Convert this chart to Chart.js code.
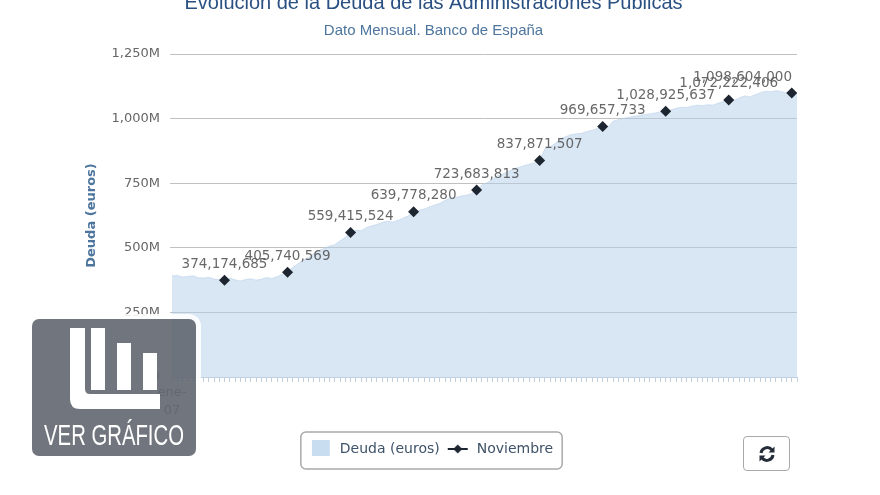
<!DOCTYPE html>
<html lang="es">
<head>
<meta charset="utf-8">
<title>Evolución de la Deuda de las Administraciones Públicas</title>
<script src="https://cdn.jsdelivr.net/npm/chart.js@4"></script>
<style>
html,body{margin:0;padding:0;background:#fff;width:880px;height:495px;overflow:hidden}
#chart{position:absolute;left:0;top:-16px}
#refresh{position:absolute;left:743px;top:436px;width:47px;height:35px;box-sizing:border-box;border:1.5px solid #a9a9a9;border-radius:4px;background:#fff;padding:0;display:flex;align-items:center;justify-content:center}
#badge{position:absolute;left:32px;top:319px;width:164px;height:137px;border-radius:7px;background:rgba(98,103,113,.91);box-shadow:0 0 0 5px rgba(255,255,255,.88)}
#badge svg{position:absolute;left:0;top:0}
#badge span{position:absolute;left:-20px;width:204px;top:99px;text-align:center;white-space:nowrap;color:#fff;font:400 29px/34px "Liberation Sans",sans-serif;transform:scaleX(.7);transform-origin:center}
</style>
</head>
<body>
<canvas id="chart" width="880" height="511"></canvas>
<button id="refresh" aria-label="Actualizar">
<svg width="18" height="18" viewBox="0 0 18 18" fill="none" stroke="#252d38" stroke-width="3"><path d="M3 8a6.2 6.2 0 0 1 11-3"/><path d="M15 10a6.2 6.2 0 0 1-11 3"/><path d="M16.5 1.5v6h-6z" fill="#252d38" stroke="none"/><path d="M1.5 16.5v-6h6z" fill="#252d38" stroke="none"/></svg>
</button>
<div id="badge">
<svg width="164" height="137" viewBox="0 0 164 137"><path d="M38 9h15v61q0 5 5 5h70v15H48q-10 0-10-10z" fill="#fff"/><rect x="59" y="9" width="14" height="62" fill="#fff"/><rect x="85" y="24" width="14" height="47" fill="#fff"/><rect x="111" y="34" width="14" height="37" fill="#fff"/></svg>
<span>VER GRÁFICO</span>
</div>
<script>
const titleText = 'Evolución de la Deuda de las Administraciones Públicas';
const subtitleText = 'Dato Mensual. Banco de España';
const yTicks = [0, 250, 500, 750, 1000, 1250];
const monthNames = ['ene','feb','mar','abr','may','jun','jul','ago','sep','oct','nov','dic'];
const years = ['07','08','09','10','11','12','13','14','15','16'];
const debt2007 = [391,393,387,389,392,384,383,386,379,377,374,382];
const debt2008 = [376,372,377,380,375,378,385,381,388,398,406,425];
const debt2009 = [438,452,462,478,490,498,507,512,527,541,559,568];
const debt2010 = [566,578,585,590,598,603,600,606,615,624,640,644];
const debt2011 = [650,658,666,672,684,692,695,700,703,709,724,743];
const debt2012 = [752,765,779,786,795,805,811,818,823,829,838,884];
const debt2013 = [890,905,923,930,938,941,943,950,955,962,970,966];
const debt2014 = [990,996,1001,1005,1009,1012,1016,1018,1022,1026,1029,1034];
const debt2015 = [1040,1044,1043,1048,1052,1050,1054,1052,1060,1066,1072,1070];
const debt2016 = [1080,1088,1084,1092,1100,1106,1104,1108,1105,1100,1099,1098];
const novemberIndexes = [10,22,34,46,58,70,82,94,106,118];
const novemberValues = [374174685,405740569,559415524,639778280,723683813,837871507,969657733,1028925637,1072222406,1098604000];

const labels = years.flatMap(y => monthNames.map(m => m + '-' + y));
const debt = [].concat(debt2007,debt2008,debt2009,debt2010,debt2011,debt2012,debt2013,debt2014,debt2015,debt2016);
const november = labels.map(() => null);
novemberIndexes.forEach((ix, i) => { november[ix] = novemberValues[i] / 1e6; });

const sans = '"DejaVu Sans", sans-serif';
const fmt = n => n.toLocaleString('en-US');

function legendIcon(kind) {
  const c = document.createElement('canvas');
  c.width = 24; c.height = 18;
  const x = c.getContext('2d');
  if (kind === 'area') {
    x.fillStyle = '#c9ddf1';
    x.fillRect(3, 0, 18, 16);
  } else {
    x.strokeStyle = x.fillStyle = '#1d2531';
    x.lineWidth = 2;
    x.beginPath(); x.moveTo(2, 9); x.lineTo(22, 9); x.stroke();
    x.beginPath(); x.moveTo(12, 4.5); x.lineTo(16.5, 9); x.lineTo(12, 13.5); x.lineTo(7.5, 9); x.fill();
  }
  return c;
}

const pointValueLabels = {
  id: 'pointValueLabels',
  afterDatasetsDraw(chart) {
    const { ctx, chartArea } = chart;
    const pts = chart.getDatasetMeta(1).data;
    ctx.save();
    ctx.font = '13.5px ' + sans;
    ctx.fillStyle = 'rgba(90,90,90,.92)';
    ctx.textAlign = 'center';
    ctx.textBaseline = 'middle';
    novemberIndexes.forEach((ix, i) => {
      const p = pts[ix], s = fmt(novemberValues[i]);
      const w = ctx.measureText(s).width;
      ctx.fillText(s, Math.min(p.x, chartArea.right - 5 - w / 2), p.y - 16);
    });
    ctx.restore();
  }
};

const legendFrame = {
  id: 'legendFrame',
  afterLayout(chart) {
    const l = chart.legend, nudge = 2.5;
    l.left -= nudge; l.right -= nudge;
    l.legendHitBoxes.forEach(h => { h.left -= nudge; });
  },
  afterDraw(chart) {
    const l = chart.legend, ctx = chart.ctx;
    const hb = l.legendHitBoxes, first = hb[0], last = hb[hb.length - 1];
    ctx.save();
    ctx.strokeStyle = '#a9a9a9';
    ctx.lineWidth = 1.5;
    ctx.beginPath();
    ctx.roundRect(first.left - 8, first.top - 10, last.left + last.width - first.left + 17, first.height + 23, 5);
    ctx.stroke();
    ctx.restore();
  }
};

new Chart(document.getElementById('chart'), {
  data: {
    labels,
    datasets: [
      { type: 'line', label: 'Deuda (euros)', data: debt, fill: 'origin', order: 2, tension: 0,
        backgroundColor: 'rgba(180,206,234,.5)', borderColor: 'rgba(180,206,234,.5)', borderWidth: 1, pointRadius: 0 },
      { type: 'line', label: 'Noviembre', data: november, showLine: false, order: 1,
        pointStyle: 'rectRot', pointRadius: 5.5, pointBackgroundColor: '#1d2531', pointBorderWidth: 0 }
    ]
  },
  options: {
    responsive: false,
    animation: false,
    layout: { padding: { left: 0, right: 13, top: 7, bottom: 29 } },
    scales: {
      x: {
        type: 'category',
        offset: false,
        grid: { display: true, drawOnChartArea: false, drawTicks: true, tickLength: 5, tickColor: '#c0d0e0', tickWidth: 1 },
        border: { color: '#c0d0e0' },
        afterFit: s => { s.height = 59; },
        afterTickToLabelConversion: s => {
          s.ticks.forEach((t, i) => { t.label = i === 0 ? ['ene-', '07'] : ''; });
        },
        ticks: { autoSkip: false, maxRotation: 0, minRotation: 0, padding: 2, color: '#666',
          font: { family: sans, size: 13, lineHeight: 1.35 } }
      },
      y: {
        min: 0, max: 1250,
        afterBuildTicks: s => { s.ticks = yTicks.map(v => ({ value: v })); },
        afterFit: s => { s.width = 172; },
        grid: { color: '#c0c0c0', tickColor: '#c0c0c0', tickLength: 2, lineWidth: 1 },
        border: { display: false },
        title: { display: true, text: 'Deuda (euros)', color: '#4d759e',
          font: { family: sans, size: 13, weight: 'bold' }, padding: { top: 84, bottom: 12 } },
        ticks: { color: '#666', padding: 10, font: { family: sans, size: 13 },
          callback: v => fmt(v) + (v === 0 ? '' : 'M') }
      },
      rightGutter: {
        position: 'right',
        display: true,
        min: 0, max: 1,
        grid: { display: false },
        border: { display: false },
        ticks: { display: false },
        afterFit: s => { s.width = 70; }
      }
    },
    plugins: {
      title: { display: true, text: titleText, color: '#2a5082',
        font: { family: '"Liberation Sans", sans-serif', size: 20, weight: 'normal' }, padding: { top: 0, bottom: 7 } },
      subtitle: { display: true, text: subtitleText, color: '#4d759e',
        font: { family: '"Liberation Sans", sans-serif', size: 15, weight: 'normal' }, padding: { top: 0, bottom: 14 } },
      legend: {
        position: 'bottom',
        labels: {
          usePointStyle: true,
          pointStyleWidth: 24,
          boxHeight: 14,
          padding: 6,
          color: '#3e5268',
          font: { family: sans, size: 14 },
          generateLabels: chart => chart.data.datasets.map((d, i) => ({
            text: d.label, datasetIndex: i, fontColor: '#3e5268', lineWidth: 0,
            pointStyle: legendIcon(i === 0 ? 'area' : 'marker')
          }))
        }
      },
      tooltip: { enabled: false }
    }
  },
  plugins: [pointValueLabels, legendFrame]
});
</script>
</body>
</html>
